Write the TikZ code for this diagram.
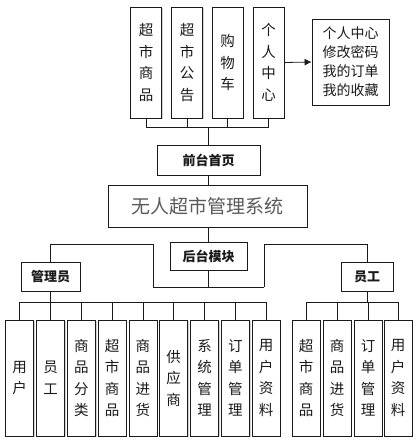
\documentclass[tikz,border=0pt]{standalone}
\usepackage{fontspec}
\setmainfont{Noto Sans CJK SC}
\usepackage{tikz}
\usetikzlibrary{arrows.meta,shadows}
\definecolor{ink}{HTML}{1A1A1A}
\definecolor{titlegray}{HTML}{5A5A5A}

\begin{document}
\begin{tikzpicture}[
  x=1pt, y=-1pt,
  box/.style={draw=ink, line width=0.8pt, fill=white, inner sep=0pt,
              align=center, text=ink,
              drop shadow={shadow xshift=1.3pt, shadow yshift=-1.3pt, opacity=0.35, fill=gray}},
  vbox/.style={box, minimum width=28pt, font=\fontsize{14.5}{21.5}\selectfont},
  head/.style={box, minimum height=29pt, font=\fontsize{13}{15}\selectfont\bfseries},
  link/.style={draw=ink, line width=0.8pt},
  arrow/.style={link, -{Latex[length=7pt,width=7pt]}}
]
\useasboundingbox (0,0) rectangle (420,442);

% --- front end ---
\node[vbox, minimum width=31pt, minimum height=111pt] (t1) at (146,62.5) {超\\市\\商\\品};
\node[vbox, minimum width=31pt, minimum height=111pt] (t2) at (187,62.5) {超\\市\\公\\告};
\node[vbox, minimum width=31pt, minimum height=111pt] (t3) at (227.5,62.5) {购\\物\\车};
\node[vbox, minimum width=31pt, minimum height=111pt] (t4) at (268.5,62.5) {个\\人\\中\\心};
\node[box, minimum width=77pt, minimum height=86pt, font=\fontsize{14}{19}\selectfont] (info) at (350.5,62)
  {个人中心\\修改密码\\我的订单\\我的收藏};
\draw[arrow] (t4.east) -- (info.west);

\node[head, minimum width=103pt, minimum height=30pt] (home) at (208.5,160) {前台首页};
\coordinate (tbus) at (208.5,127);
\draw[link] (t1.south) |- (tbus);
\draw[link] (t2.south) |- (tbus);
\draw[link] (t3.south) |- (tbus);
\draw[link] (t4.south) |- (tbus);
\draw[link] (tbus) -- (home.north);

% --- system ---
\node[box, minimum width=199pt, minimum height=42pt, text=titlegray,
      font=\fontsize{19}{22}\selectfont] (sys) at (207.5,206) {无人超市管理系统};
\draw[link] (home.south) -- (sys.north -| home.south);

% --- back end ---
\node[head, minimum width=77pt, minimum height=28pt] (back) at (208.5,256) {后台模块};
\draw[link] (sys.south -| back.north) -- (back.north);
\node[head, minimum width=59pt] (admin) at (50.5,276.5) {管理员};
\node[head, minimum width=52pt] (staff) at (367,276.5) {员工};
\coordinate (bbus) at (208.5,287);
\coordinate (bl) at (153,287);
\coordinate (blu) at (153,244);
\coordinate (br) at (264,287);
\coordinate (bru) at (264,244);
\draw[link] (back.south) -- (bbus);
\draw[link] (bl) -- (br);
\draw[link] (bl) -- (blu) -| (admin.north);
\draw[link] (br) -- (bru) -| (staff.north);

% --- admin modules ---
\coordinate (abus) at (50.5,302);
\draw[link] (admin.south) -- (abus);
\node[vbox, minimum height=116pt] (a1) at (19.7,378) {用\\户};
\node[vbox, minimum height=116pt] (a2) at (50.5,378) {员\\工};
\node[vbox, minimum height=116pt] (a3) at (81.3,378) {商\\品\\分\\类};
\node[vbox, minimum height=116pt] (a4) at (112.1,378) {超\\市\\商\\品};
\node[vbox, minimum height=116pt] (a5) at (142.9,378) {商\\品\\进\\货};
\node[vbox, minimum height=116pt] (a6) at (173.7,378) {供\\应\\商};
\node[vbox, minimum height=116pt] (a7) at (204.5,378) {系\\统\\管\\理};
\node[vbox, minimum height=116pt] (a8) at (235.3,378) {订\\单\\管\\理};
\node[vbox, minimum height=116pt] (a9) at (266.1,378) {用\\户\\资\\料};
\draw[link] (a1.north) |- (abus);
\draw[link] (a2.north) |- (abus);
\draw[link] (a3.north) |- (abus);
\draw[link] (a4.north) |- (abus);
\draw[link] (a5.north) |- (abus);
\draw[link] (a6.north) |- (abus);
\draw[link] (a7.north) |- (abus);
\draw[link] (a8.north) |- (abus);
\draw[link] (a9.north) |- (abus);

% --- staff modules ---
\coordinate (sbus) at (367,302);
\draw[link] (staff.south) -- (sbus);
\node[vbox, minimum height=116pt] (s1) at (306,378) {超\\市\\商\\品};
\node[vbox, minimum height=116pt] (s2) at (337,378) {商\\品\\进\\货};
\node[vbox, minimum height=116pt] (s3) at (368,378) {订\\单\\管\\理};
\node[vbox, minimum height=116pt] (s4) at (398,378) {用\\户\\资\\料};
\draw[link] (s1.north) |- (sbus);
\draw[link] (s2.north) |- (sbus);
\draw[link] (s3.north) |- (sbus);
\draw[link] (s4.north) |- (sbus);

\end{tikzpicture}
\end{document}
